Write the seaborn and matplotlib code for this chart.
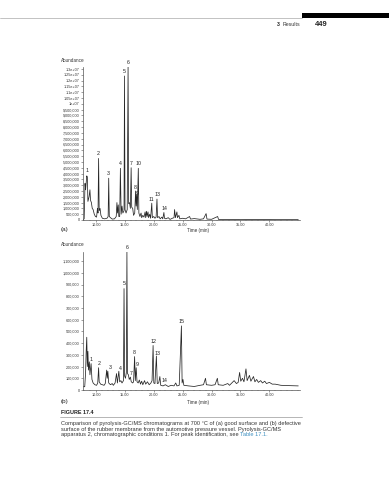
import matplotlib
matplotlib.use("Agg")
import matplotlib.pyplot as plt
import seaborn as sns
import pandas as pd
from matplotlib.ticker import MultipleLocator, FixedLocator

# ---------------- data ----------------
# (a) good surface: chromatogram vertices (time in min, abundance)
time_a = [7.8, 7.95, 8.1, 8.2, 8.4, 8.5, 8.6, 8.8, 8.95, 9.05, 9.2, 9.35, 9.5, 9.7, 9.9,
          10.1, 10.25, 10.35, 10.45, 10.55, 10.7, 10.85, 11.1, 11.5, 11.9, 12.1, 12.2, 12.3,
          12.5, 12.8, 13.2, 13.5, 13.62, 13.72, 13.85, 13.95, 14.1, 14.22, 14.35, 14.5, 14.65,
          14.85, 14.93, 15.02, 15.2, 15.4, 15.55, 15.65, 15.8, 15.95, 16.08, 16.18, 16.35, 16.5,
          16.7, 16.85, 16.95, 17.05, 17.15, 17.32, 17.42, 17.6, 17.8, 17.9, 18.1, 18.3, 18.5,
          18.6, 18.75, 18.85, 19.0, 19.1, 19.3, 19.45, 19.65, 19.75, 20.0, 20.2, 20.4, 20.55,
          20.65, 20.9, 21.1, 21.4, 21.55, 21.75, 21.85, 22.1, 22.5, 22.8, 23.2, 23.5, 23.6,
          23.75, 24.0, 24.1, 24.35, 24.5, 25.0, 25.5, 26.2, 26.35, 27.0, 28.0, 28.6, 29.05,
          29.2, 30.0, 31.05, 31.2, 33.0, 35.0, 38.0, 41.0, 45.0]
abund_a = [0.05e6, 0.1e6, 3.15e6, 2.6e6, 3.8e6, 3.7e6, 1.6e6, 2.0e6, 2.6e6, 1.7e6, 1.5e6, 1.0e6,
           0.9e6, 0.5e6, 0.3e6, 0.25e6, 1.0e6, 0.6e6, 5.3e6, 0.8e6, 1.0e6, 0.4e6, 0.15e6, 0.1e6,
           0.15e6, 0.3e6, 3.6e6, 0.3e6, 0.2e6, 0.08e6, 0.1e6, 0.3e6, 1.5e6, 0.6e6, 1.3e6, 0.3e6,
           0.3e6, 4.45e6, 0.5e6, 1.2e6, 0.6e6, 0.8e6, 1.24e7, 0.9e6, 0.6e6, 0.9e6, 1.32e7, 1.4e6,
           1.5e6, 1.0e6, 4.5e6, 1.1e6, 1.0e6, 0.4e6, 0.6e6, 2.5e6, 1.2e6, 2.2e6, 0.9e6, 4.45e6,
           0.6e6, 0.3e6, 0.6e6, 0.2e6, 0.4e6, 0.25e6, 0.7e6, 0.2e6, 0.75e6, 0.3e6, 0.7e6, 0.2e6,
           0.5e6, 0.15e6, 1.45e6, 0.2e6, 0.3e6, 0.15e6, 0.25e6, 1.8e6, 0.2e6, 0.3e6, 0.1e6,
           0.25e6, 0.1e6, 0.65e6, 0.15e6, 0.1e6, 0.2e6, 0.05e6, 0.15e6, 0.2e6, 0.9e6, 0.2e6,
           0.7e6, 0.2e6, 0.4e6, 0.1e6, 0.15e6, 0.1e6, 0.3e6, 0.08e6, 0.12e6, 0.06e6, 0.1e6,
           0.55e6, 0.08e6, 0.06e6, 0.3e6, 0.05e6, 0.05e6, 0.03e6, 0.04e6, 0.03e6, 0.03e6]

# (b) defective surface
time_b = [7.8, 8.05, 8.2, 8.3, 8.4, 8.5, 8.6, 8.7, 8.85, 8.95, 9.15, 9.3, 9.5, 9.8, 10.1, 10.3,
          10.45, 10.55, 10.8, 11.1, 11.4, 11.6, 11.85, 11.95, 12.05, 12.2, 12.5, 12.8, 13.0,
          13.3, 13.55, 13.7, 13.95, 14.1, 14.3, 14.5, 14.75, 14.85, 14.95, 15.1, 15.25, 15.35,
          15.45, 15.6, 15.75, 15.95, 16.1, 16.35, 16.5, 16.68, 16.8, 16.95, 17.1, 17.3, 17.5,
          17.7, 17.9, 18.1, 18.4, 18.6, 18.9, 19.2, 19.5, 19.7, 19.88, 20.0, 20.2, 20.45, 20.6,
          20.85, 21.05, 21.2, 21.6, 22.0, 22.5, 23.0, 23.5, 23.8, 24.0, 24.4, 24.78, 24.9,
          25.05, 25.2, 26.0, 27.0, 28.0, 28.6, 28.95, 29.1, 30.0, 30.6, 31.0, 31.15, 32.0,
          32.8, 33.1, 33.5, 33.9, 34.3, 34.6, 34.85, 35.05, 35.35, 35.6, 35.95, 36.15, 36.55,
          36.8, 37.25, 37.5, 37.8, 38.1, 38.5, 38.8, 39.2, 39.5, 40.0, 40.5, 41.0, 42.0, 43.0,
          45.0]
abund_b = [28e3, 28e3, 150e3, 330e3, 450e3, 200e3, 330e3, 170e3, 240e3, 130e3, 225e3, 90e3,
           60e3, 45e3, 40e3, 60e3, 190e3, 70e3, 50e3, 45e3, 40e3, 55e3, 170e3, 100e3, 160e3,
           60e3, 45e3, 55e3, 40e3, 60e3, 140e3, 60e3, 160e3, 70e3, 80e3, 60e3, 80e3, 865e3,
           120e3, 100e3, 150e3, 1180e3, 140e3, 130e3, 90e3, 110e3, 70e3, 60e3, 70e3, 285e3,
           80e3, 190e3, 70e3, 60e3, 85e3, 50e3, 75e3, 45e3, 80e3, 50e3, 70e3, 45e3, 60e3, 80e3,
           380e3, 60e3, 55e3, 290e3, 55e3, 60e3, 115e3, 40e3, 35e3, 45e3, 30e3, 40e3, 35e3,
           60e3, 35e3, 40e3, 547e3, 60e3, 90e3, 40e3, 35e3, 30e3, 40e3, 45e3, 100e3, 45e3,
           40e3, 45e3, 100e3, 45e3, 40e3, 55e3, 40e3, 60e3, 80e3, 55e3, 65e3, 150e3, 75e3,
           100e3, 70e3, 180e3, 80e3, 125e3, 75e3, 115e3, 70e3, 90e3, 65e3, 80e3, 60e3, 75e3,
           55e3, 65e3, 50e3, 50e3, 40e3, 38e3, 35e3]

# peak labels: text, time, label height
peak_lab_a = ["1", "2", "3", "4", "5", "6", "7", "8", "9", "10", "11", "13", "14"]
peak_t_a = [8.5, 10.45, 12.2, 14.26, 14.95, 15.6, 16.1, 16.85, 17.1, 17.35, 19.5, 20.65, 21.9]
peak_h_a = [4.24e6, 5.74e6, 4.0e6, 4.9e6, 1.28e7, 1.36e7, 4.9e6, 2.78e6, 2.3e6, 4.9e6,
            1.75e6, 2.2e6, 0.95e6]

peak_lab_b = ["1", "2", "3", "4", "5", "6", "7", "8", "9", "12", "13", "14", "15"]
peak_t_b = [9.17, 10.6, 12.45, 14.17, 14.85, 15.4, 16.1, 16.7, 17.2, 19.9, 20.6, 21.8, 24.85]
peak_h_b = [256e3, 228e3, 188e3, 185e3, 906e3, 1220e3, 143e3, 319e3, 214e3, 413e3, 314e3,
            85e3, 581e3]

xticks = [10, 15, 20, 25, 30, 35, 40]
xtick_labels = ["10.00", "15.00", "20.00", "25.00", "30.00", "35.00", "40.00"]

yticks_a = [i * 500000 for i in range(27)]
ytick_labels_a = ["0", "500,000", "1,000,000", "1,500,000", "2,000,000", "2,500,000",
                  "3,000,000", "3,500,000", "4,000,000", "4,500,000", "5,000,000",
                  "5,500,000", "6,000,000", "6,500,000", "7,000,000", "7,500,000",
                  "8,000,000", "8,500,000", "9,000,000", "9,500,000", "1e+07", "1.05e+07",
                  "1.1e+07", "1.15e+07", "1.2e+07", "1.25e+07", "1.3e+07"]
yticks_b = [i * 100000 for i in range(12)]
ytick_labels_b = ["0", "100,000", "200,000", "300,000", "400,000", "500,000", "600,000",
                  "700,000", "800,000", "900,000", "1,000,000", "1,100,000"]

# ---------------- figure ----------------
sns.set_theme(style="ticks")
plt.rcParams["font.family"] = ["Liberation Sans", "DejaVu Sans"]

W, H = 389, 480
fig = plt.figure(figsize=(W / 100, H / 100), dpi=100)
fig.patch.set_facecolor("white")


def fx(x):
    return x / W


def fy(y):
    return 1 - y / H


line_col = "#262626"
ax_col = "#555555"


def style_axis(ax, yt, ytl, ylim):
    ax.set_xlim(7.75, 45.3)
    ax.set_ylim(*ylim)
    ax.set_facecolor("white")
    sns.despine(ax=ax)
    for s in ["left", "bottom"]:
        ax.spines[s].set_linewidth(0.5)
        ax.spines[s].set_color(ax_col)
    ax.xaxis.set_major_locator(FixedLocator(xticks))
    ax.set_xticklabels(xtick_labels)
    ax.xaxis.set_minor_locator(MultipleLocator(1))
    ax.yaxis.set_major_locator(FixedLocator(yt))
    ax.set_yticklabels(ytl)
    ax.tick_params(axis="both", which="major", labelsize=2.7, length=1.5, width=0.4,
                   pad=0.8, colors=ax_col, labelcolor="#333333")
    ax.tick_params(axis="x", which="minor", length=1.0, width=0.3, colors=ax_col)
    ax.set_xlabel("")
    ax.set_ylabel("")
    ax.grid(False)


ax_a = fig.add_axes([fx(83), fy(220), fx(300) - fx(83), fy(66.7) - fy(220)])
df_a = pd.DataFrame({"t": time_a, "y": abund_a})
sns.lineplot(data=df_a, x="t", y="y", ax=ax_a, color=line_col, linewidth=0.55,
             estimator=None, sort=False)
style_axis(ax_a, yticks_a, ytick_labels_a, (0, 1.32e7))
for lab, t, h in zip(peak_lab_a, peak_t_a, peak_h_a):
    ax_a.text(t, h, lab, fontsize=3.8, ha="center", va="center", color="#222222",
              clip_on=False)

ax_b = fig.add_axes([fx(83), fy(390), fx(300) - fx(83), fy(251.7) - fy(390)])
df_b = pd.DataFrame({"t": time_b, "y": abund_b})
sns.lineplot(data=df_b, x="t", y="y", ax=ax_b, color=line_col, linewidth=0.55,
             estimator=None, sort=False)
style_axis(ax_b, yticks_b, ytick_labels_b, (0, 1.18e6))
for lab, t, h in zip(peak_lab_b, peak_t_b, peak_h_b):
    ax_b.text(t, h, lab, fontsize=3.8, ha="center", va="center", color="#222222",
              clip_on=False)

# axis titles
fig.text(fx(61), fy(60), "Abundance", fontsize=3.3, ha="left", va="center", color="#333333")
fig.text(fx(61), fy(245), "Abundance", fontsize=3.3, ha="left", va="center", color="#333333")
fig.text(fx(198), fy(230.5), "Time (min)", fontsize=3.3, ha="center", va="center",
         color="#333333")
fig.text(fx(198), fy(402.5), "Time (min)", fontsize=3.3, ha="center", va="center",
         color="#333333")
fig.text(fx(61), fy(229.5), "(a)", fontsize=4.6, ha="left", va="center", color="#222222")
fig.text(fx(61), fy(402), "(b)", fontsize=4.6, ha="left", va="center", color="#222222")

# page header
fig.add_artist(plt.Line2D([0, fx(302)], [fy(18.3), fy(18.3)], color="#aaaaaa", linewidth=0.5))
fig.add_artist(plt.Rectangle((fx(302), fy(17.5)), 1 - fx(302), fy(13) - fy(17.5),
                             color="black", linewidth=0))
fig.text(fx(277), fy(25), "3", fontsize=3.8, fontweight="bold", ha="left", va="center",
         color="#222222")
fig.text(fx(283), fy(25), "Results", fontsize=3.8, ha="left", va="center", color="#333333")
fig.text(fx(315), fy(25), "449", fontsize=5.4, fontweight="bold", ha="left", va="center",
         color="#222222")

# caption
fig.text(fx(61), fy(413), "FIGURE 17.4", fontsize=3.9, fontweight="bold", ha="left",
         va="center", color="#222222")
fig.add_artist(plt.Line2D([fx(60), fx(302)], [fy(417.3), fy(417.3)], color="#999999",
                          linewidth=0.5))
cap1 = ("Comparison of pyrolysis-GC/MS chromatograms at 700 \u00b0C of (a) good surface and "
        "(b) defective")
cap2 = "surface of the rubber membrane from the automotive pressure vessel. Pyrolysis-GC/MS"
cap3 = "apparatus 2, chromatographic conditions 1. For peak identification, see "
cap_fs = 4.05
fig.text(fx(61), fy(423.3), cap1, fontsize=cap_fs, ha="left", va="center", color="#333333")
fig.text(fx(61), fy(429), cap2, fontsize=cap_fs, ha="left", va="center", color="#333333")
t3 = fig.text(fx(61), fy(434.7), cap3, fontsize=cap_fs, ha="left", va="center",
              color="#333333")
fig.canvas.draw()
bb = t3.get_window_extent()
fig.text(bb.x1 / W, fy(434.7), "Table 17.1.", fontsize=cap_fs, ha="left", va="center",
         color="#3d8fc0")

fig.savefig("out.png", dpi=100, facecolor="white")
